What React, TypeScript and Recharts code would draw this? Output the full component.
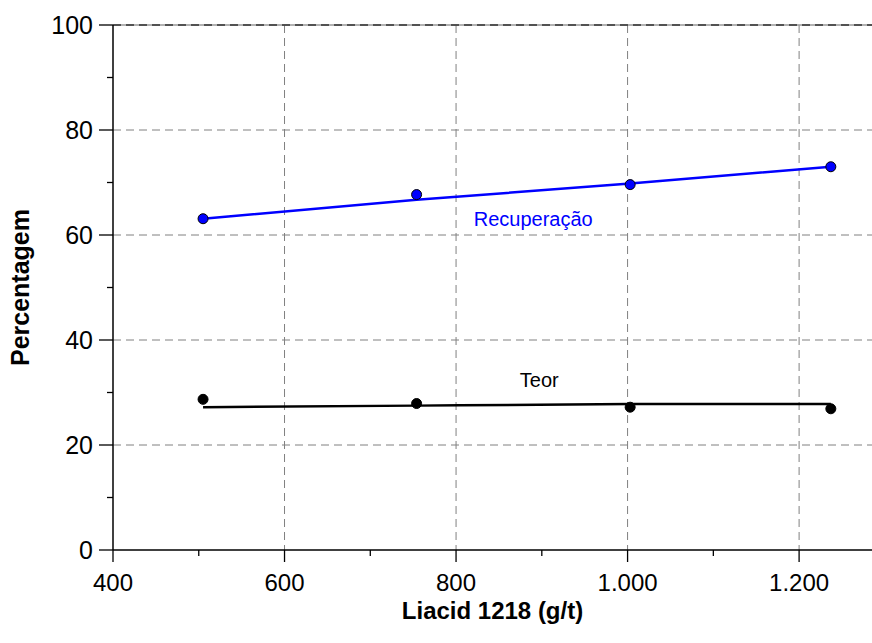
import React from 'react'
import {
  ComposedChart, Line, Scatter, XAxis, YAxis, CartesianGrid, ReferenceLine, ReferenceDot,
} from 'recharts'

// dose de Liacid 1218 (g/t)
const doses = [505, 754, 1003, 1237]
// pontos medidos
const recuperacao = [63.1, 67.7, 69.6, 73.0]
const teor = [28.7, 27.9, 27.2, 26.9]
// curvas ajustadas
const recuperacaoFit = [63.1, 66.7, 69.8, 73.0]
const teorFit = [27.2, 27.5, 27.8, 27.8]

const xTicks = [400, 500, 600, 700, 800, 900, 1000, 1100, 1200]
const xMajor = [400, 600, 800, 1000, 1200]
const yTicks = [0, 10, 20, 30, 40, 50, 60, 70, 80, 90, 100]
const yMajor = [0, 20, 40, 60, 80, 100]

const recLabel = { x: 890, y: 63.0, text: 'Recuperação' }
const teorLabel = { x: 897, y: 32.4, text: 'Teor' }

const data = doses.map((x, i) => ({
  x,
  rec: recuperacao[i],
  recFit: recuperacaoFit[i],
  teor: teor[i],
  teorFit: teorFit[i],
}))

const FONT = '"Liberation Sans", Arial, sans-serif'

const fmtX = (v: number) => (v >= 1000 ? `${Math.floor(v / 1000)}.${String(v % 1000).padStart(3, '0')}` : String(v))

function XTick(props: any) {
  const { x, y, payload } = props
  const major = xMajor.includes(payload.value)
  return (
    <g>
      <line x1={x} x2={x} y1={y} y2={y + (major ? 12 : 6)} stroke="#000" strokeWidth={1.3} />
      {major && (
        <text x={x} y={y + 24} dy="0.71em" textAnchor="middle" fontSize={24} fontFamily={FONT} fill="#000">
          {fmtX(payload.value)}
        </text>
      )}
    </g>
  )
}

function YTick(props: any) {
  const { x, y, payload } = props
  const major = yMajor.includes(payload.value)
  return (
    <g>
      <line x1={x} x2={x - (major ? 14 : 6)} y1={y} y2={y} stroke="#000" strokeWidth={1.3} />
      {major && (
        <text x={x - 20} y={y} dy="0.355em" textAnchor="end" fontSize={25} fontFamily={FONT} fill="#000">
          {payload.value}
        </text>
      )}
    </g>
  )
}

const dot = (fill: string) => (p: any) => (
  <circle cx={p.cx} cy={p.cy} r={5} fill={fill} stroke="#000" strokeWidth={1} />
)

export default function App() {
  return (
    <div style={{ position: 'absolute', left: 0, top: 0, width: 872, height: 643, background: '#fff' }}>
      <ComposedChart width={872} height={643} data={data} margin={{ top: 25, right: 0, bottom: 0, left: 0 }}>
        <CartesianGrid
          stroke="#808080"
          strokeDasharray="8 5"
          verticalValues={[600, 800, 1000, 1200]}
          horizontalValues={[20, 40, 60, 80]}
        />
        <ReferenceLine y={100} stroke="#999" strokeWidth={1.3} />
        <ReferenceLine y={100} stroke="#333" strokeWidth={1.3} strokeDasharray="8 5" />
        <XAxis
          type="number"
          dataKey="x"
          domain={[400, 1285]}
          ticks={xTicks}
          interval={0}
          allowDataOverflow
          height={93}
          tickSize={0}
          tickMargin={0}
          tickLine={false}
          tick={<XTick />}
          axisLine={{ stroke: '#000', strokeWidth: 1.5 }}
          label={{
            value: 'Liacid 1218 (g/t)', position: 'insideBottom', offset: 24,
            style: { fontSize: 24, fontWeight: 700, fontFamily: FONT, fill: '#000' },
          }}
        />
        <YAxis
          type="number"
          domain={[0, 100]}
          ticks={yTicks}
          interval={0}
          width={113}
          tickSize={0}
          tickMargin={0}
          tickLine={false}
          tick={<YTick />}
          axisLine={{ stroke: '#000', strokeWidth: 1.5 }}
          label={{
            value: 'Percentagem', angle: -90, position: 'insideLeft', offset: 20,
            style: { textAnchor: 'middle', fontSize: 25, fontWeight: 700, fontFamily: FONT, fill: '#000' },
          }}
        />
        <Line type="linear" dataKey="recFit" stroke="#0000ff" strokeWidth={2.5} dot={false} isAnimationActive={false} />
        <Line type="natural" dataKey="teorFit" stroke="#000" strokeWidth={2.5} dot={false} isAnimationActive={false} />
        <Scatter dataKey="rec" shape={dot('#0000ff')} isAnimationActive={false} />
        <Scatter dataKey="teor" shape={dot('#000')} isAnimationActive={false} />
        <ReferenceDot
          x={recLabel.x} y={recLabel.y} r={0} fill="none" stroke="none"
          label={{ value: recLabel.text, position: 'center', fill: '#0000ff', fontSize: 20, fontFamily: FONT }}
        />
        <ReferenceDot
          x={teorLabel.x} y={teorLabel.y} r={0} fill="none" stroke="none"
          label={{ value: teorLabel.text, position: 'center', fill: '#000', fontSize: 20, fontFamily: FONT }}
        />
      </ComposedChart>
    </div>
  )
}
